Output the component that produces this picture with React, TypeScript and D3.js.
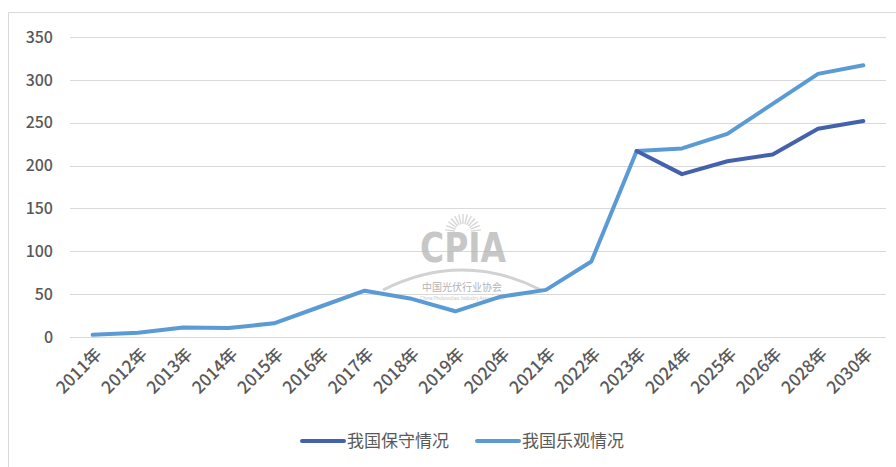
import React, { useEffect, useRef } from "react";
import * as d3 from "d3";

const categories = ["2011年","2012年","2013年","2014年","2015年","2016年","2017年","2018年","2019年","2020年","2021年","2022年","2023年","2024年","2025年","2026年","2028年","2030年"];
const optimistic = [2.5, 5, 11, 10.5, 16, 35, 54, 45, 30, 47, 55, 88, 217, 220, 237, 272, 307, 317];
const conservative: (number | null)[] = [null, null, null, null, null, null, null, null, null, null, null, null, 217, 190, 205, 213, 243, 252];
const yTicks = [0, 50, 100, 150, 200, 250, 300, 350];
const seriesNames = ["我国保守情况", "我国乐观情况"];
const seriesColors = ["#4462AC", "#5B9BD5"];

const W = 896, H = 467;
const FONT = "'Noto Sans CJK SC', 'Noto Sans', sans-serif";

export default function App() {
  const ref = useRef<SVGSVGElement>(null);
  useEffect(() => {
    const svg = d3.select(ref.current);
    svg.selectAll("*").remove();
    const left = 70, right = 886, top = 37, bottom = 337;
    const x = d3.scaleBand().domain(categories).range([left, right]);
    const y = d3.scaleLinear().domain([0, 350]).range([bottom, top]);
    const cx = (c: string) => (x(c) as number) + x.bandwidth() / 2;

    svg.append("rect").attr("width", W).attr("height", H).attr("fill", "#fff");
    // border
    svg.append("path").attr("d", `M8.5,${H} L8.5,12.5 L${W},12.5`).attr("fill", "none").attr("stroke", "#d9d9d9").attr("stroke-width", 1);

    // gridlines
    svg.append("g").selectAll("line").data(yTicks).join("line")
      .attr("x1", left).attr("x2", right)
      .attr("y1", d => Math.round(y(d)) + 0.5).attr("y2", d => Math.round(y(d)) + 0.5)
      .attr("stroke", "#d9d9d9").attr("stroke-width", 1);

    // y labels
    svg.append("g").selectAll("text").data(yTicks).join("text")
      .attr("x", 53).attr("y", d => y(d)).attr("dy", "0.36em")
      .attr("text-anchor", "end").attr("font-family", FONT).attr("font-size", 16).attr("font-weight", 500)
      .attr("fill", "#595959").text(d => d);

    // x labels
    svg.append("g").selectAll("text").data(categories).join("text")
      .attr("transform", d => `translate(${cx(d) + 6},351) rotate(-45)`)
      .attr("text-anchor", "end").attr("dy", "0.35em")
      .attr("font-family", FONT).attr("font-size", 17).attr("font-weight", 500).attr("fill", "#595959").text(d => d);

    // watermark
    const wm = svg.append("g").attr("opacity", 0.75);
    const sunCx = 463, sunCy = 232;
    for (let i = 0; i < 13; i++) {
      const a = Math.PI + (Math.PI * (i + 0.5)) / 13;
      wm.append("line")
        .attr("x1", sunCx + Math.cos(a) * 8).attr("y1", sunCy + Math.sin(a) * 8)
        .attr("x2", sunCx + Math.cos(a) * 18).attr("y2", sunCy + Math.sin(a) * 18)
        .attr("stroke", "#c8c8c8").attr("stroke-width", 1.3);
    }
    wm.append("text").attr("x", 463).attr("y", 262).attr("text-anchor", "middle")
      .attr("font-family", "'DejaVu Sans Condensed', 'Liberation Sans Narrow', sans-serif")
      .attr("font-weight", "bold").attr("font-size", 40).attr("fill", "#b5b5b5")
      .attr("textLength", 86).attr("lengthAdjust", "spacingAndGlyphs").text("CPIA");
    wm.append("path").attr("d", "M383,290 Q462,250 541,290").attr("fill", "none")
      .attr("stroke", "#c4c4c4").attr("stroke-width", 3);
    wm.append("text").attr("x", 462).attr("y", 291).attr("text-anchor", "middle")
      .attr("font-family", FONT).attr("font-size", 10).attr("fill", "#9a9a9a").text("中国光伏行业协会");
    wm.append("text").attr("x", 462).attr("y", 300).attr("text-anchor", "middle")
      .attr("font-family", FONT).attr("font-size", 4.5).attr("fill", "#b0b0b0").text("China Photovoltaic Industry Association");

    // lines
    const line = d3.line<number | null>()
      .defined(d => d !== null)
      .x((_, i) => cx(categories[i]))
      .y(d => y(d as number));
    svg.append("path").datum(optimistic as (number | null)[]).attr("d", line)
      .attr("fill", "none").attr("stroke", seriesColors[1]).attr("stroke-width", 4)
      .attr("stroke-linejoin", "round").attr("stroke-linecap", "round");
    svg.append("path").datum(conservative).attr("d", line)
      .attr("fill", "none").attr("stroke", seriesColors[0]).attr("stroke-width", 4)
      .attr("stroke-linejoin", "round").attr("stroke-linecap", "round");

    // legend
    const lg = svg.append("g");
    const lx = [300, 475];
    seriesNames.forEach((n, i) => {
      lg.append("line").attr("x1", lx[i] + 2).attr("x2", lx[i] + 44).attr("y1", 441).attr("y2", 441)
        .attr("stroke", seriesColors[i]).attr("stroke-width", 4).attr("stroke-linecap", "round");
      lg.append("text").attr("x", lx[i] + 47).attr("y", 441).attr("dy", "0.36em")
        .attr("font-family", FONT).attr("font-size", 17).attr("fill", "#595959").text(n);
    });
  }, []);
  return (
    <svg ref={ref} width={W} height={H} style={{ display: "block", position: "absolute", left: 0, top: 0 }} />
  );
}
